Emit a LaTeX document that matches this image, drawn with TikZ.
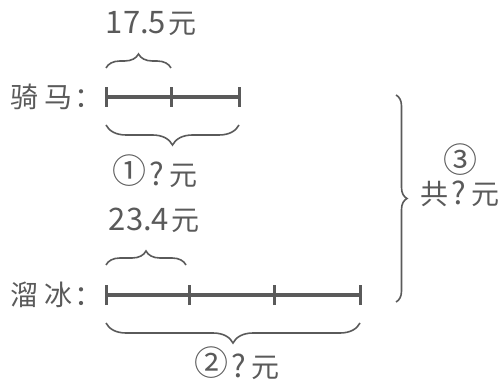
\documentclass[tikz,border=0pt]{standalone}
\usepackage{fontspec}
\setmainfont{Noto Sans CJK SC}
\usetikzlibrary{decorations.pathreplacing}
\definecolor{ink}{HTML}{5A5A5A}
\newcommand{\circnum}[1]{\raisebox{2pt}{\fontsize{34}{34}\selectfont #1}}
\newcommand{\qm}{\hspace{3pt}{\fontsize{31}{31}\selectfont ?}\hspace{5pt}}
\tikzset{
  seg/.style={draw=ink, line width=3.4pt},
  tick/.style={draw=ink, line width=3pt},
  brc/.style={draw=ink, line width=1.6pt, decorate, decoration={brace, amplitude=#1}},
  brc/.default=14pt,
  lbl/.style={text=ink, inner sep=0pt, font=\fontsize{28}{32}\selectfont},
  num/.style={text=ink, inner sep=0pt, font=\fontsize{31}{34}\selectfont},
}
\begin{document}
\begin{tikzpicture}[x=1pt,y=-1pt]
\useasboundingbox (0,0) rectangle (503,382);
% horse riding line
\coordinate (a0) at (106,97);
\coordinate (a1) at (171,97);
\coordinate (a2) at (239,97);
\draw[seg] (a0) -- (a1) -- (a2);
\foreach \p in {a0,a1,a2} \draw[tick] ([yshift=-10pt]\p) -- ([yshift=10pt]\p);
\node[lbl, anchor=west] (ql) at (10,97) {骑\hspace{6pt}马\hspace{2pt}：};
\coordinate (ab1) at (106,68);
\coordinate (ab2) at (171,68);
\draw[brc=14pt] (ab1) -- (ab2);
\node[num] (qa) at (151,24) {17.5\hspace{2pt}{\fontsize{28}{32}\selectfont 元}};
\coordinate (ac1) at (239,125);
\coordinate (ac2) at (106,125);
\draw[brc=20pt] (ac1) -- (ac2);
\node[lbl] (qb) at (155,171) {\circnum{①}\qm 元};
% skating line
\coordinate (b0) at (106,295);
\coordinate (b1) at (189,295);
\coordinate (b2) at (274,295);
\coordinate (b3) at (360,295);
\draw[seg] (b0) -- (b1) -- (b2) -- (b3);
\foreach \p in {b0,b1,b2,b3} \draw[tick] ([yshift=-10pt]\p) -- ([yshift=10pt]\p);
\node[lbl, anchor=west] (ll) at (10,295) {溜\hspace{6pt}冰\hspace{2pt}：};
\coordinate (bb1) at (106,265);
\coordinate (bb2) at (186,265);
\draw[brc=14pt] (bb1) -- (bb2);
\node[num] (la) at (154,220) {23.4\hspace{2pt}{\fontsize{28}{32}\selectfont 元}};
\coordinate (bc1) at (360,323);
\coordinate (bc2) at (106,323);
\draw[brc=20pt] (bc1) -- (bc2);
\node[lbl] (lb) at (237,363) {\circnum{②}\qm 元};
% total
\coordinate (t1) at (396,95);
\coordinate (t2) at (396,302);
\draw[brc=11pt] (t1) -- (t2);
\node[lbl] (tc) at (460,160) {\circnum{③}};
\node[lbl] (tt) at (460,194) {共\qm 元};
\end{tikzpicture}
\end{document}
